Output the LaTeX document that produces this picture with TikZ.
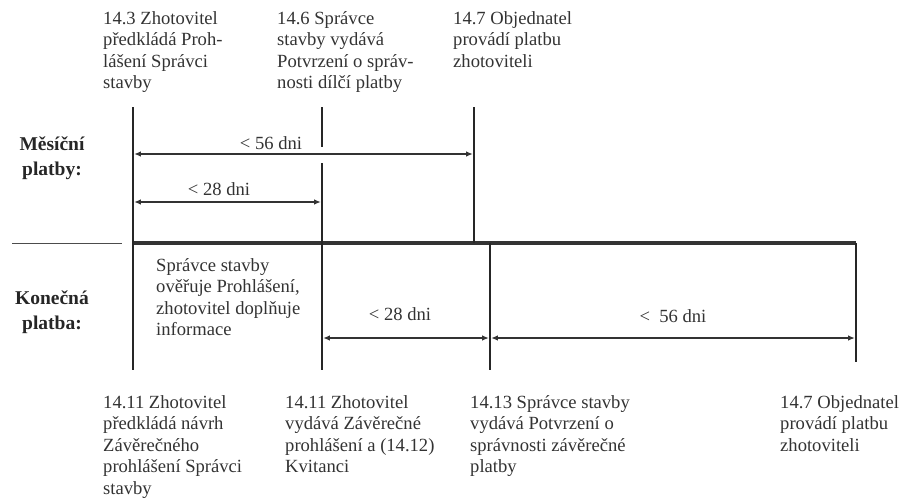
\documentclass[tikz,border=0pt]{standalone}
\usepackage{fontspec}
\setmainfont{Liberation Serif}
\usetikzlibrary{arrows.meta}

\begin{document}
\begin{tikzpicture}[x=1pt, y=-1pt,
    note/.style={anchor=north west, align=left, inner sep=0pt, text=black!80,
        font=\fontsize{18.6}{21.6}\selectfont},
    rowname/.style={align=center, inner sep=0pt, text=black!85,
        font=\bfseries\fontsize{19.5}{25}\selectfont},
    days/.style={inner sep=0pt, text=black!80, font=\fontsize{18.6}{22}\selectfont},
    tick/.style={line width=2.6pt, black!85},
    span/.style={line width=1.1pt, black!80, shorten <=1.3pt, shorten >=1.3pt,
        {Latex[length=6.5pt,width=5.5pt]}-{Latex[length=6.5pt,width=5.5pt]}}]

    \useasboundingbox (0,0) rectangle (899,501);

    \def\xA{133}; % 14.3 / 14.11 submission
    \def\xB{322}; % 14.6 / 14.11 final statement
    \def\xC{474}; % 14.7 monthly payment
    \def\xD{490}; % 14.13 final certificate
    \def\xE{856}; % 14.7 final payment
    \def\yTop{107};
    \def\yAxis{243};
    \def\yBot{370};

    %%% milestone coordinates %%%
    \coordinate (aTop) at (\xA,\yTop);
    \coordinate (aBot) at (\xA,\yBot);
    \coordinate (bTop) at (\xB,\yTop);
    \coordinate (bCut) at (\xB,147);
    \coordinate (bRes) at (\xB,163);
    \coordinate (bBot) at (\xB,\yBot);
    \coordinate (cTop) at (\xC,\yTop);
    \coordinate (cAxis) at (\xC,\yAxis);
    \coordinate (dAxis) at (\xD,\yAxis);
    \coordinate (dBot) at (\xD,\yBot);
    \coordinate (eAxis) at (\xE,\yAxis);
    \coordinate (eBot) at (\xE,362);
    \coordinate (aAxis) at (\xA,\yAxis);
    \coordinate (sepL) at (12,\yAxis);
    \coordinate (sepR) at (122,\yAxis);

    % separator and time axis
    \draw[line width=1pt, black!70] (sepL) -- (sepR);
    \draw[line width=4pt, black!80] (aAxis) -- (eAxis);

    % vertical milestones
    \draw[tick] (aTop) -- (aBot);
    \draw[tick] (bTop) -- (bCut);
    \draw[tick] (bRes) -- (bBot);
    \draw[tick] (cTop) -- (cAxis);
    \draw[tick] (dAxis) -- (dBot);
    \draw[tick] (eAxis) -- (eBot);

    %%% time spans %%%
    \coordinate (a56) at (\xA,154);
    \coordinate (c56) at (\xC,154);
    \coordinate (a28) at (\xA,202);
    \coordinate (b28) at (\xB,202);
    \coordinate (b28f) at (\xB,338);
    \coordinate (d28f) at (\xD,338);
    \coordinate (e56f) at (\xE,338);

    \draw[span] (a56) -- (c56);
    \draw[span] (a28) -- (b28);
    \draw[span] (b28f) -- (d28f);
    \draw[span] (d28f) -- (e56f);

    \node[days] (monthLong) at (271,143) {< 56 dni};
    \node[days] (monthShort) at (219,189) {< 28 dni};
    \node[days] (finalShort) at (400,314) {< 28 dni};
    \node[days] (finalLong) at (673,316) {<\ \ 56 dni};

    %%% row names %%%
    \node[rowname] (monthly) at (52,158) {Měsíční\\platby:};
    \node[rowname] (final) at (52,312) {Konečná\\platba:};

    %%% milestone texts %%%
    \node[note] (submit) at (103,11) {14.3 Zhotovitel\\předkládá Proh-\\lášení Správci\\stavby};
    \node[note] (certify) at (277,11) {14.6 Správce\\stavby vydává\\Potvrzení o správ-\\nosti dílčí platby};
    \node[note] (pay) at (453,11) {14.7 Objednatel\\provádí platbu\\zhotoviteli};

    \node[note] (check) at (156,258) {Správce stavby\\ověřuje Prohlášení,\\zhotovitel doplňuje\\informace};

    \node[note] (draft) at (103,395) {14.11 Zhotovitel\\předkládá návrh\\Závěrečného\\prohlášení Správci\\stavby};
    \node[note] (statement) at (285,395) {14.11 Zhotovitel\\vydává Závěrečné\\prohlášení a (14.12)\\Kvitanci};
    \node[note] (finalCert) at (470,395) {14.13 Správce stavby\\vydává Potvrzení o\\správnosti závěrečné\\platby};
    \node[note] (finalPay) at (780,395) {14.7 Objednatel\\provádí platbu\\zhotoviteli};
\end{tikzpicture}
\end{document}
